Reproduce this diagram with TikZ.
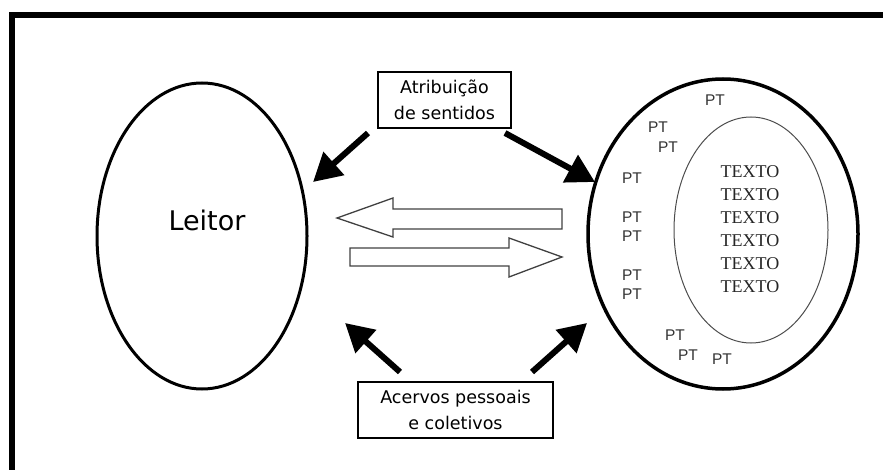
\documentclass[tikz,border=0pt]{standalone}
\usepackage{fontspec}
\setmainfont{DejaVu Sans}
\newfontfamily\ptfont{Liberation Sans}
\newfontfamily\textofont{Liberation Serif}
\usetikzlibrary{shapes.geometric, arrows.meta}
\tikzset{
  every node/.style={inner sep=0pt},
  oval/.style={draw, ellipse, line width=3pt},
  caixa/.style={draw, line width=1.3pt, minimum height=56pt, align=center,
    font=\fontsize{17.5}{26}\selectfont},
  seta/.style={line width=6pt, -{Triangle[length=28pt, width=30pt]}},
  oca/.style={draw=black!75, line width=1.3pt, line join=miter},
  pt/.style={font=\ptfont\fontsize{15.5}{15.5}\selectfont, text=black!80},
  texto/.style={font=\textofont\fontsize{18}{18}\selectfont, text=black!85},
}

\begin{document}
\begin{tikzpicture}[x=1pt, y=-1pt]
  \useasboundingbox (0,0) rectangle (883,470);
  % frame
  \draw[line width=6pt] (883,15.5) -- (12,15.5) -- (12,470);

  % ellipses
  \node[oval, minimum width=210pt, minimum height=306pt] (leitor) at (202,236) {};
  \node[font=\fontsize{27}{27}\selectfont] (leitortxt) at (207,220) {Leitor};
  \node[oval, line width=3.5pt, minimum width=270pt, minimum height=310pt] (pts) at (723,234) {};
  \node[draw=black!70, ellipse, line width=1pt, minimum width=154pt, minimum height=226pt] (texto) at (751,230) {};

  % TEXTO lines
  \foreach \y [count=\i] in {172,195,218,241,264,287}
    \node[texto] (tx\i) at (750,\y) {TEXTO};

  % PT labels
  \foreach \x/\y [count=\i] in {715/100, 658/127, 668/147, 632/178, 632/217,
      632/236, 632/275, 632/294, 675/335, 688/355, 722/359}
    \node[pt] (pt\i) at (\x,\y) {PT};

  % boxes
  \node[caixa, minimum width=133pt] (atrib) at (444.5,100) {Atribuição\\ de sentidos};
  \node[caixa, minimum width=195pt] (acervo) at (455.5,410) {Acervos pessoais\\e coletivos};

  % arrow ends
  \coordinate (a1) at (368,133);
  \coordinate (b1) at (313,182);
  \coordinate (a2) at (505,133);
  \coordinate (b2) at (595,182);
  \coordinate (a3) at (400,372);
  \coordinate (b3) at (345,323);
  \coordinate (a4) at (532,372);
  \coordinate (b4) at (587,323);

  % black arrows
  \draw[seta] (a1) -- (b1);
  \draw[seta] (a2) -- (b2);
  \draw[seta] (a3) -- (b3);
  \draw[seta] (a4) -- (b4);

  % hollow arrows
  \draw[oca] (562,209) -- (393,209) -- (393,198) -- (337,218) -- (393,237)
    -- (393,229) -- (562,229) -- cycle;
  \draw[oca] (350,248) -- (509,248) -- (509,238) -- (562,257) -- (509,277)
    -- (509,266) -- (350,266) -- cycle;
\end{tikzpicture}
\end{document}
